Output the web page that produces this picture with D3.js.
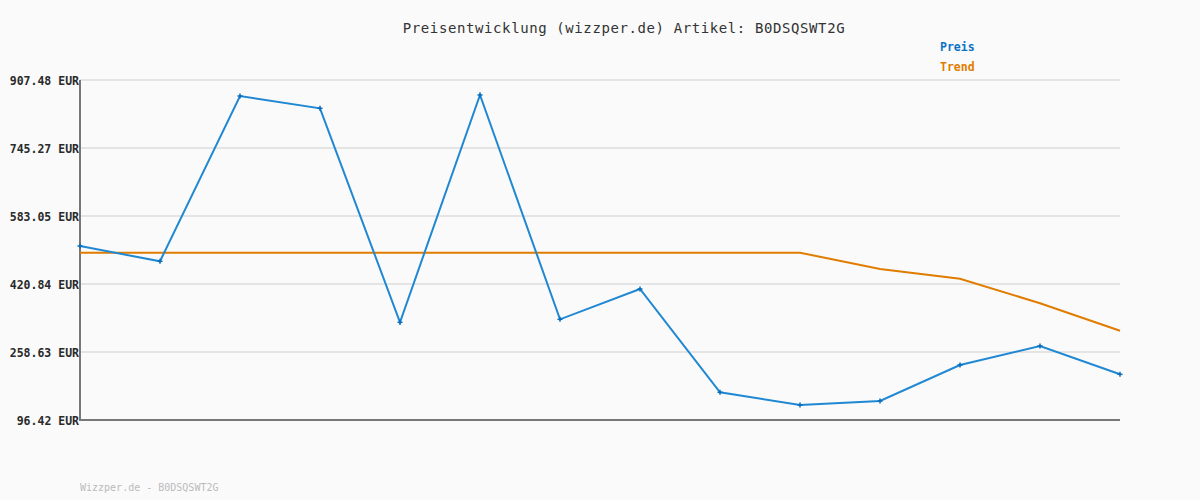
<!DOCTYPE html>
<html><head><meta charset="utf-8">
<script src="https://cdn.jsdelivr.net/npm/d3@7"></script>
<style>
html,body{margin:0;padding:0;background:#fafafa;}
svg{display:block;}
</style></head>
<body>
<svg id="c" width="1200" height="500"></svg>
<script>
const product = "B0DSQSWT2G";
const titleText = "Preisentwicklung (wizzper.de) Artikel: " + product;
const footerText = "Wizzper.de - " + product;
const idx = [0,1,2,3,4,5,6,7,8,9,10,11,12,13];
const preis = [511.5, 475.0, 869.3, 840.0, 329.5, 871.7, 336.6, 408.9, 162.5, 132.2, 141.7, 227.6, 272.9, 205.4];
const trend = [495.5, 495.5, 495.5, 495.5, 495.5, 495.5, 495.5, 495.5, 495.5, 495.5, 456.6, 433.5, 374.8, 309.4];
const yTicks = [96.42, 258.63, 420.84, 583.05, 745.27, 907.48];
const seriesNames = ["Preis", "Trend"];

const svg = d3.select("#c");
const x = d3.scaleLinear().domain([0, 13]).range([80, 1120]);
const y = d3.scaleLinear().domain([96.42, 907.48]).range([420, 80]);
const mono = "'DejaVu Sans Mono', 'Liberation Mono', monospace";

svg.append("rect").attr("width",1200).attr("height",500).attr("fill","#fafafa");

// grid
svg.append("g").selectAll("line").data(yTicks.slice(1)).join("line")
  .attr("x1",80).attr("x2",1120).attr("y1",d=>y(d)).attr("y2",d=>y(d))
  .attr("stroke","#e4e4e4").attr("stroke-width",2);

// y axis labels
const yAxis = d3.axisLeft(y).tickValues(yTicks).tickSize(0).tickPadding(1)
  .tickFormat(d=>d.toFixed(2)+" EUR");
const ga = svg.append("g").attr("transform","translate(80,0)").call(yAxis);
ga.select(".domain").remove();
ga.selectAll("text").attr("font-family",mono).attr("font-size","11.5px")
  .attr("font-weight","bold").attr("fill","#2a2a2a").attr("dy","0.35em");

// axes lines
svg.append("line").attr("x1",80).attr("x2",80).attr("y1",80).attr("y2",421)
  .attr("stroke","#777").attr("stroke-width",2);
svg.append("line").attr("x1",79).attr("x2",1120).attr("y1",420).attr("y2",420)
  .attr("stroke","#777").attr("stroke-width",2);

const line = d3.line().x((d,i)=>x(idx[i])).y(d=>y(d));

svg.append("path").datum(trend).attr("d",line).attr("fill","none")
  .attr("stroke","#e07c00").attr("stroke-width",2);
svg.append("path").datum(preis).attr("d",line).attr("fill","none")
  .attr("stroke","#2088d2").attr("stroke-width",2);

// markers
const m = svg.append("g").selectAll("g").data(preis).join("g")
  .attr("transform",(d,i)=>`translate(${x(idx[i])},${y(d)})`);
m.append("line").attr("x1",-2.5).attr("x2",2.5).attr("stroke","#0a6cbc").attr("stroke-width",1.5);
m.append("line").attr("y1",-2.5).attr("y2",2.5).attr("stroke","#0a6cbc").attr("stroke-width",1.5);

// title
svg.append("text").attr("x",624).attr("y",33).attr("text-anchor","middle")
  .attr("font-family",mono).attr("font-size","14px").attr("letter-spacing","0.6px")
  .attr("fill","#333").text(titleText);

// legend
const legColors = ["#0a72c4","#e07c00"];
svg.append("g").selectAll("text").data(seriesNames).join("text")
  .attr("x",940).attr("y",(d,i)=>51+i*20)
  .attr("font-family",mono).attr("font-size","11.5px").attr("font-weight","bold")
  .attr("fill",(d,i)=>legColors[i]).text(d=>d);

// footer
svg.append("text").attr("x",80).attr("y",491)
  .attr("font-family",mono).attr("font-size","10px")
  .attr("fill","#bbb").text(footerText);
</script>
</body></html>
